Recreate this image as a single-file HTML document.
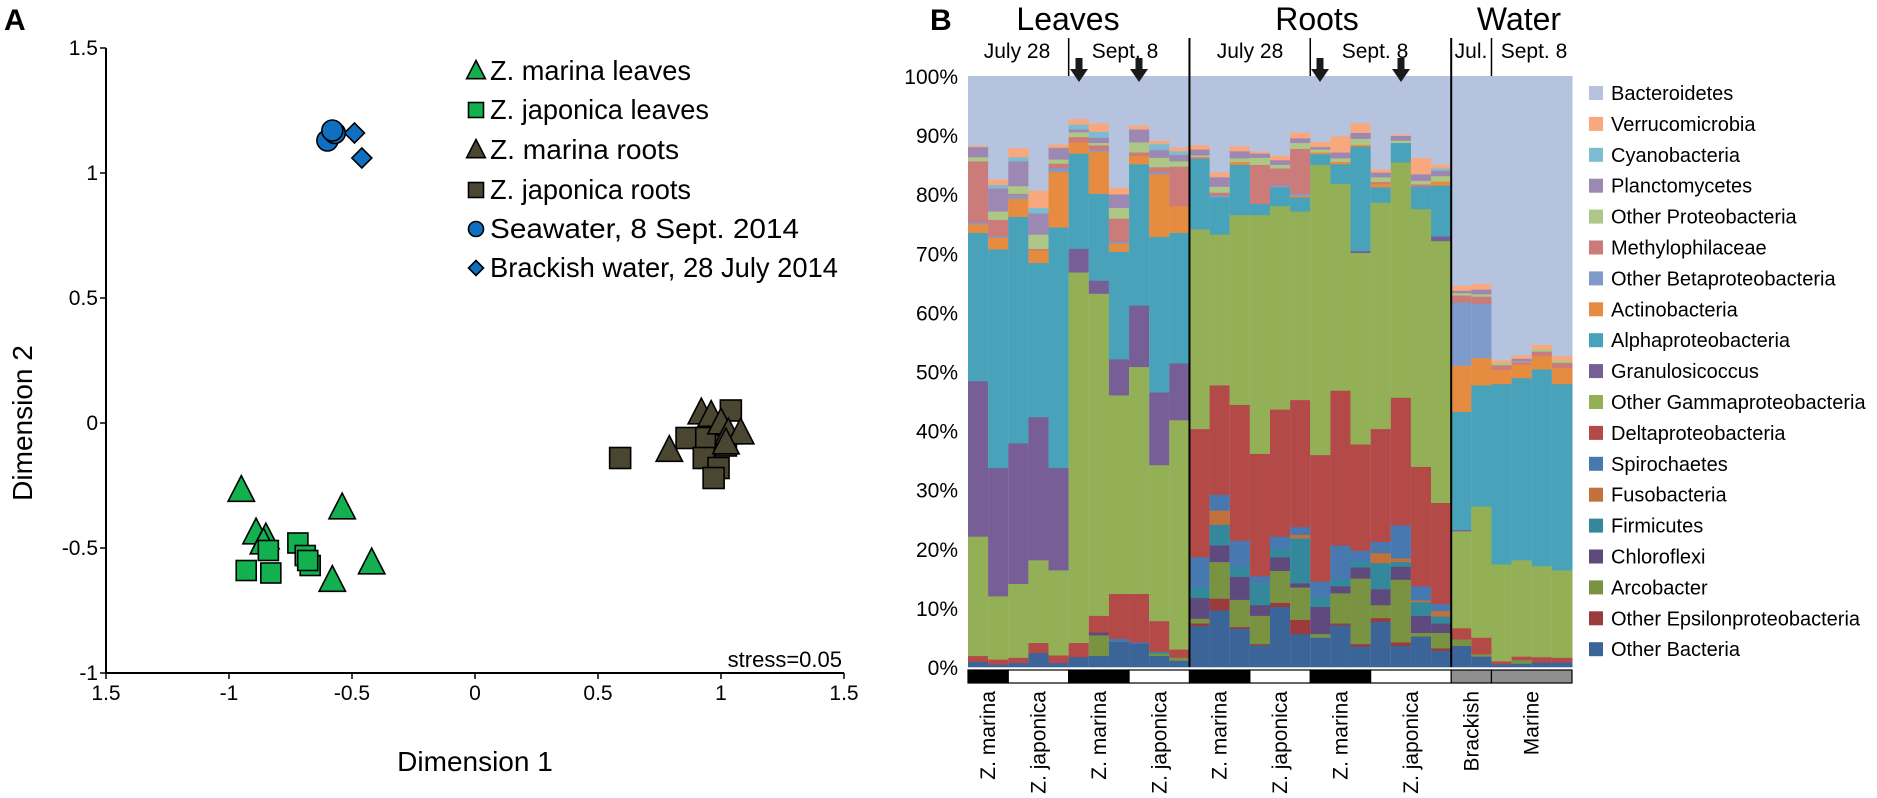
<!DOCTYPE html>
<html><head><meta charset="utf-8">
<style>
html,body{margin:0;padding:0;background:#fff;}
svg{display:block;font-family:"Liberation Sans",Arial,sans-serif;}
</style></head>
<body>
<svg id="fig" width="1877" height="798" viewBox="0 0 1877 798">
</svg>
<script>
// ---------- Panel A data ----------
const mlX=[-0.95,-0.89,-0.85,-0.86,-0.54,-0.42,-0.58];
const mlY=[-0.27,-0.44,-0.46,-0.48,-0.34,-0.56,-0.63];
const jlX=[-0.93,-0.84,-0.83,-0.72,-0.69,-0.67,-0.68];
const jlY=[-0.59,-0.51,-0.60,-0.48,-0.53,-0.57,-0.55];
const mrX=[0.79,0.92,0.96,1.00,1.03,1.08,1.02];
const mrY=[-0.11,0.04,0.03,0.00,-0.04,-0.04,-0.08];
const jrX=[0.59,0.86,0.94,0.93,0.99,0.97,1.04,1.02];
const jrY=[-0.14,-0.06,-0.06,-0.14,-0.18,-0.22,0.05,-0.09];
const swX=[-0.60,-0.57,-0.58];
const swY=[1.13,1.16,1.17];
const bwX=[-0.49,-0.46];
const bwY=[1.16,1.06];
const xTicks=[-1.5,-1,-0.5,0,0.5,1,1.5];
const xTickLabels=["1.5","-1","-0.5","0","0.5","1","1.5"];
const yTicks=[1.5,1,0.5,0,-0.5,-1];
const yTickLabels=["1.5","1","0.5","0","-0.5","-1"];

// ---------- Panel B data (percent per bar, 30 bars) ----------
const otherBacteria=[0.9,.45,.7,2.4,.7,1.7,1.9,4.3,4.0,1.9,1.1, 7.0,9.6,6.5,3.7,10.2,5.6,5.0,7.1,3.5,7.7,3.6,5.2,2.8, 3.6,1.8,.5,.6,.8,.8];
const otherEpsilon=[0,0,0,0,0,0,0,0,0,0,0, .4,2.0,.3,.2,.7,2.4,0,.3,.4,.6,.6,0,.4, 0,0,0,0,0,0];
const arcobacter=[0,0,0,0,0,0,3.5,0,0,.4,.5, .8,6.2,4.6,4.8,5.4,5.5,.6,5.1,11.1,2.2,10.6,.6,2.6, 1.1,.4,0,.6,0,0];
const chloroflexi=[0,0,0,0,0,0,.5,0,0,0,0, 3.5,2.8,3.9,1.8,2.3,.7,4.6,1.2,1.9,2.7,2.2,2.9,1.6, 0,0,0,0,0,0];
const firmicutes=[0,0,0,0,0,0,0,0,0,.3,0, 1.8,3.5,1.7,3.7,1.6,7.6,1.6,1.2,1.0,4.4,.8,2.3,1.2, 0,0,0,0,0,0];
const fusobacteria=[0,0,0,0,0,0,0,0,0,0,0, 0,2.4,0,0,0,.6,0,0,0,1.7,.6,.3,.9, 0,0,0,0,0,0];
const spirochaetes=[0,0,0,0,0,0,0,.5,.2,0,0, 5.1,2.7,4.4,1.2,1.9,1.3,2.7,5.7,1.8,1.9,5.6,2.4,1.2, 0,0,0,0,0,0];
const deltaproteo=[1.0,.85,.9,1.7,1.3,2.4,2.8,7.6,8.2,5.2,1.4, 21.7,18.5,23.0,20.7,21.5,21.5,21.4,26.2,18.0,19.1,21.6,20.2,17.1, 1.9,2.8,.5,.6,.9,.8];
const otherGamma=[20.2,10.7,12.5,14.0,14.4,62.7,54.5,33.6,38.4,26.4,38.8, 33.8,25.5,32.1,40.4,34.4,31.9,49.1,35.0,32.4,38.3,39.8,43.6,44.3, 16.4,22.2,16.4,16.3,15.4,14.8];
const granulosicoccus=[26.3,21.7,23.8,24.2,17.3,4.0,2.2,6.1,10.4,12.3,9.6, 0,0,0,0,0,0,0,0,.3,0,0,0,.8, .2,0,0,0,0,0];
const alphaproteo=[25.1,37.0,38.3,26.1,40.7,16.1,14.7,18.2,23.9,26.3,22.1, 11.9,6.3,8.5,1.9,3.2,2.4,1.8,3.3,17.7,2.6,3.3,3.8,8.6, 20.0,20.5,30.5,30.8,33.3,31.5];
const actinobacteria=[1.4,2.0,3.1,2.1,9.4,1.9,7.2,1.4,1.4,10.6,4.5, 0,0,.5,0,0,.3,.3,.4,.3,.6,0,0,.7, 7.8,4.6,2.4,2.3,2.2,2.7];
const otherBeta=[.3,.2,.6,0,.6,0,.3,.3,0,.3,0, 0,.3,0,0,.3,.3,0,0,0,0,0,0,0, 10.7,9.2,0,0,0,0];
const methylophilaceae=[10.4,2.8,.2,.3,.8,.9,.7,3.9,.6,.9,6.7, .3,.5,0,6.6,2.9,7.6,0,0,0,.3,0,.4,0, 1.2,1.2,.8,.4,.8,.9];
const otherProteo=[.7,1.4,1.3,2.4,.7,.8,.4,1.8,1.7,1.6,.9, .3,1.0,.6,1.2,.6,1.0,.5,.6,1.0,.8,.4,.6,.9, .4,.4,.4,.1,.4,.4];
const planctomycetes=[1.7,3.9,4.2,3.6,2.0,.5,.9,2.3,2.2,1.3,1.1, 1.0,1.6,1.2,.7,.8,.8,.4,1.0,1.0,.8,.8,1.1,.9, .4,.8,0,.5,0,0];
const cyanobacteria=[0,.6,.7,.9,0,.8,1.0,0,0,1.0,.6, 0,0,0,0,0,0,0,0,0,0,0,0,.4, 0,0,0,0,0,0];
const verrucomicrobia=[.2,.9,1.5,2.9,.5,.9,1.4,1.1,.6,.5,.6, .7,.8,.8,.3,.7,.9,.8,2.7,1.6,.5,.2,2.7,.6, .8,.9,.4,.5,.7,.7];
const pctTicks=[0,10,20,30,40,50,60,70,80,90,100];

const series=[
 ["Other Bacteria",otherBacteria,"#3b6498"],
 ["Other Epsilonproteobacteria",otherEpsilon,"#9b3b3b"],
 ["Arcobacter",arcobacter,"#7a9342"],
 ["Chloroflexi",chloroflexi,"#5f4a7d"],
 ["Firmicutes",firmicutes,"#33889b"],
 ["Fusobacteria",fusobacteria,"#c4703a"],
 ["Spirochaetes",spirochaetes,"#4878b0"],
 ["Deltaproteobacteria",deltaproteo,"#b34a48"],
 ["Other Gammaproteobacteria",otherGamma,"#93b056"],
 ["Granulosicoccus",granulosicoccus,"#775e96"],
 ["Alphaproteobacteria",alphaproteo,"#47a2ba"],
 ["Actinobacteria",actinobacteria,"#e68c40"],
 ["Other Betaproteobacteria",otherBeta,"#7f9bcb"],
 ["Methylophilaceae",methylophilaceae,"#cb7b7a"],
 ["Other Proteobacteria",otherProteo,"#adc886"],
 ["Planctomycetes",planctomycetes,"#9d88b4"],
 ["Cyanobacteria",cyanobacteria,"#7cbcd2"],
 ["Verrucomicrobia",verrucomicrobia,"#f8a87c"]
];
const bactColor="#b5c3de";

const NS="http://www.w3.org/2000/svg";
const svg=document.getElementById('fig');
function mk(tag,attrs,parent){const e=document.createElementNS(NS,tag);for(const k in attrs)e.setAttribute(k,attrs[k]);(parent||svg).appendChild(e);return e;}
function txt(s,attrs,parent){const e=mk('text',attrs,parent);e.textContent=s;return e;}

// ===== Panel A =====
const gA=mk('g',{});


const sx=v=>475+v*246, sy=v=>423-v*250;
let t=txt("A",{x:4,y:30,"font-size":30,"font-weight":"bold"},gA);

let ax=mk('line',{x1:sx(-1.5),y1:sy(1.5),x2:sx(-1.5),y2:sy(-1),stroke:"#000","stroke-width":2},gA);

ax=mk('line',{x1:sx(-1.5),y1:sy(-1),x2:sx(1.5),y2:sy(-1),stroke:"#000","stroke-width":2},gA);

xTicks.forEach((v,i)=>{
  mk('line',{x1:sx(v),y1:sy(-1),x2:sx(v),y2:sy(-1)+6,stroke:"#000","stroke-width":1.5},gA);
  const l=txt(xTickLabels[i],{x:sx(v),y:700,"font-size":21,"text-anchor":"middle"},gA);
  
});
yTicks.forEach((v,i)=>{
  mk('line',{x1:sx(-1.5)-6,y1:sy(v),x2:sx(-1.5),y2:sy(v),stroke:"#000","stroke-width":1.5},gA);
  const l=txt(yTickLabels[i],{x:98,y:sy(v)+7,"font-size":21,"text-anchor":"end"},gA);
  
});
t=txt("Dimension 1",{x:475,y:771,"font-size":28,"text-anchor":"middle"},gA);

t=txt("Dimension 2",{x:0,y:0,"font-size":28,"text-anchor":"middle",transform:"translate(32,423) rotate(-90)"},gA);

t=txt("stress=0.05",{x:842,y:667,"font-size":22,"text-anchor":"end"},gA);


const GREEN="#12b04e", DARK="#4a4631", BLUE="#0f6fc0";
function marker(shape,cx,cy,fill,s,parent){
  let e;
  if(shape==='tri'){e=mk('polygon',{points:`${cx},${cy-s*0.62} ${cx-s*0.55},${cy+s*0.45} ${cx+s*0.55},${cy+s*0.45}`,fill,stroke:"#000","stroke-width":1.6},parent);}
  else if(shape==='sq'){e=mk('rect',{x:cx-s/2,y:cy-s/2,width:s,height:s,fill,stroke:"#000","stroke-width":1.6},parent);}
  else if(shape==='circ'){e=mk('circle',{cx,cy,r:s/2,fill,stroke:"#000","stroke-width":1.6},parent);}
  else {e=mk('polygon',{points:`${cx},${cy-s/2} ${cx+s/2},${cy} ${cx},${cy+s/2} ${cx-s/2},${cy}`,fill,stroke:"#000","stroke-width":1.6},parent);}
  return e;
}
const groups=[
 [jrX,jrY,'sq',DARK,21,'point-z-japonica-roots'],
 [mrX,mrY,'tri',DARK,24,'point-z-marina-roots'],
 [mlX,mlY,'tri',GREEN,24,'point-z-marina-leaves'],
 [jlX,jlY,'sq',GREEN,20,'point-z-japonica-leaves'],
 [bwX,bwY,'dia',BLUE,20,'point-brackish-water'],
 [swX,swY,'circ',BLUE,21,'point-seawater']
];
groups.forEach(g=>{
  g[0].forEach((xv,i)=>{
    const e=marker(g[2],sx(xv),sy(g[1][i]),g[3],g[4],gA);
    
    
  });
});
const legA=[
 ['tri',GREEN,"Z. marina leaves",201],
 ['sq',GREEN,"Z. japonica leaves",219],
 ['tri',DARK,"Z. marina roots",189],
 ['sq',DARK,"Z. japonica roots",201],
 ['circ',BLUE,"Seawater, 8 Sept. 2014",309],
 ['dia',BLUE,"Brackish water, 28 July 2014",348]
];
const legAy=[70,109,149,189,228,267];
legA.forEach((L,i)=>{
  const g=mk('g',{},gA);
  
  
  marker(L[0],476,legAy[i]+1,L[1],L[0]==='tri'?17:15,g);
  txt(L[2],{x:490,y:legAy[i]+10,"font-size":28,textLength:L[3],lengthAdjust:"spacingAndGlyphs"},g);
});

// ===== Panel B =====
const gB=mk('g',{});


const X0=968,X1=1572,Y0=667,Y100=76,N=otherGamma.length;
const bw=(X1-X0)/N;
const bx=i=>X0+i*bw;
const py=p=>Y0-(p/100)*(Y0-Y100);
t=txt("B",{x:930,y:30,"font-size":30,"font-weight":"bold"},gB);

// background = Bacteroidetes remainder
for(let i=0;i<N;i++){
  let cum=0;
  const b=mk('rect',{x:bx(i),y:Y100,width:bw+0.5,height:Y0-Y100,fill:bactColor},gB);
  
  
  series.forEach(s=>{
    const v=s[1][i];
    if(v>0){
      const r=mk('rect',{x:bx(i),y:py(cum+v),width:bw+0.5,height:py(cum)-py(cum+v)+0.3,fill:s[2]},gB);
      
      
    }
    cum+=v;
  });
}
pctTicks.forEach(p=>{
  const l=txt(p+"%",{x:958,y:py(p)+8,"font-size":21,"text-anchor":"end"},gB);
  
});
// dividers
[[11,38],[24,38]].forEach(d=>{
  const l=mk('line',{x1:bx(d[0]),y1:d[1],x2:bx(d[0]),y2:Y0,stroke:"#000","stroke-width":2},gB);
  
});
[5,17,26].forEach(d=>{
  const l=mk('line',{x1:bx(d),y1:38,x2:bx(d),y2:Y100,stroke:"#000","stroke-width":1.5},gB);
  
});
[1079,1139,1320,1401].forEach(x=>{
  const a=mk('polygon',{points:`${x-3.5},58 ${x+3.5},58 ${x+3.5},69 ${x+9},69 ${x},82 ${x-9},69 ${x-3.5},69`,fill:"#1a1a1a"},gB);
  
});
[["Leaves",1068],["Roots",1317],["Water",1519]].forEach(h=>{
  const l=txt(h[0],{x:h[1],y:30,"font-size":32,"text-anchor":"middle"},gB);
  
});
[["July 28",1017],["Sept. 8",1125],["July 28",1250],["Sept. 8",1375],["Jul.",1471],["Sept. 8",1534]].forEach(h=>{
  const l=txt(h[0],{x:h[1],y:58,"font-size":21,"text-anchor":"middle"},gB);
  
});
// bottom sample bars
const segs=[[0,2,"#000","Z. marina"],[2,5,"#fff","Z. japonica"],[5,8,"#000","Z. marina"],[8,11,"#fff","Z. japonica"],
 [11,14,"#000","Z. marina"],[14,17,"#fff","Z. japonica"],[17,20,"#000","Z. marina"],[20,24,"#fff","Z. japonica"],
 [24,26,"#8f8f8f","Brackish"],[26,30,"#8f8f8f","Marine"]];
segs.forEach(s=>{
  const r=mk('rect',{x:bx(s[0]),y:670,width:bx(s[1])-bx(s[0]),height:13,fill:s[2],stroke:"#000","stroke-width":1.2},gB);
  
  const cx=(bx(s[0])+bx(s[1]))/2;
  const l=txt(s[3],{x:0,y:0,"font-size":21,"text-anchor":"end",transform:`translate(${cx+7},691) rotate(-90)`},gB);
  
});
// legend
const legB=[["Bacteroidetes",bactColor]].concat(series.slice().reverse().map(s=>[s[0],s[2]]));
legB.forEach((L,i)=>{
  const y=93+i*30.9;
  const g=mk('g',{},gB);
  
  
  mk('rect',{x:1589,y:y-7,width:14,height:14,fill:L[1]},g);
  txt(L[0],{x:1611,y:y+7,"font-size":20},g);
});
</script>
</body></html>
